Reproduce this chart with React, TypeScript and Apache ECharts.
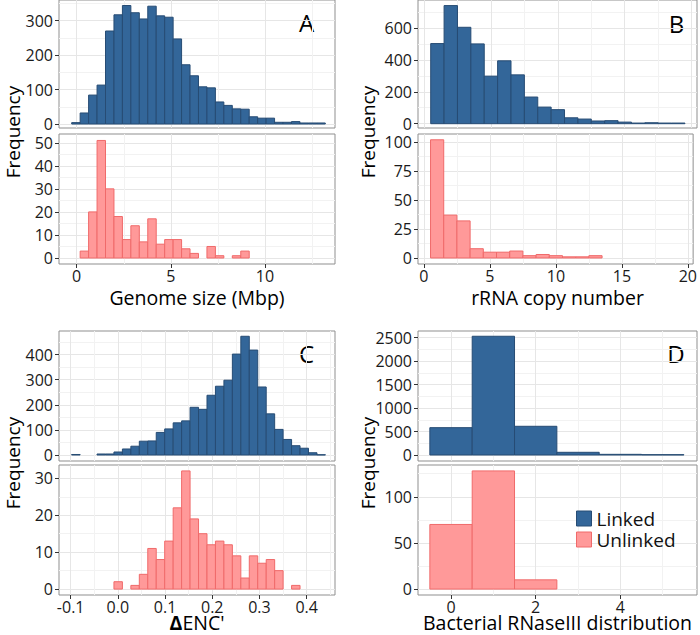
import React, { useEffect, useRef } from 'react';
import * as echarts from 'echarts';

// ---- Data (histogram counts per bin) ----
// Panel A: Genome size (Mbp)
const genomeBinStart = -0.266;
const genomeBinWidth = 0.449;
const genomeLinked = [4, 32, 84, 113, 270, 317, 344, 323, 305, 342, 314, 310, 247, 172, 140, 108, 105, 64, 54, 44, 43, 21, 17, 17, 5, 5, 7, 3, 3, 3];
const genomeUnlinked = [0, 3, 20, 51, 30, 18, 8, 14, 7, 17, 6, 8, 8, 4, 2, 0, 5, 1, 0, 1, 3];

// Panel B: rRNA copy number
const rrnaBinStart = 0.5;
const rrnaBinWidth = 1;
const rrnaLinked = [502, 740, 604, 500, 298, 394, 306, 167, 104, 88, 37, 29, 17, 19, 10, 4, 6, 4, 4];
const rrnaUnlinked = [102, 37, 32, 8, 5, 5, 6, 2, 3, 2, 1, 1, 2];

// Panel C: delta ENC'
const encBinStart = -0.0979;
const encBinWidth = 0.01792;
const encLinked = [2, 0, 0, 4, 4, 12, 24, 35, 55, 56, 90, 104, 128, 136, 190, 182, 238, 274, 298, 402, 473, 418, 271, 164, 102, 62, 37, 27, 9, 1];
const encUnlinked = [0, 0, 0, 0, 0, 2, 0, 1, 4, 11, 8, 13, 22, 32, 19, 15, 12, 13, 12, 9, 3, 9, 7, 8, 5, 0, 1];

// Panel D: Bacterial RNaseIII distribution
const rnaseBinStart = -0.5;
const rnaseBinWidth = 1;
const rnaseLinked = [582, 2528, 611, 57, 14, 7];
const rnaseUnlinked = [70, 128, 10];

const seriesNames = ['Linked', 'Unlinked'];
const panelLetters = ['A', 'B', 'C', 'D'];
const xTitles = ['Genome size (Mbp)', 'rRNA copy number', "{d|Δ}ENC'", 'Bacterial RNaseIII distribution'];
const yTitle = 'Frequency';

const FONT = '"Open Sans", "Noto Sans", sans-serif';
const BLUE = '#336699';
const BLUE_BORDER = '#274c74';
const PINK = '#ff9999';
const PINK_BORDER = '#f06a6a';

export default function App() {
  const ref = useRef<HTMLDivElement>(null);

  useEffect(() => {
    if (!ref.current) return;
    const chart = echarts.init(ref.current, undefined, { renderer: 'svg' });

    // grid layout: [left, top, width, height]
    const grids = [
      [59, 0, 276, 128],
      [59, 134, 276, 130],
      [418, 0, 279, 128],
      [418, 134, 279, 130],
      [59, 331, 276, 130],
      [59, 465, 276, 130],
      [418, 331, 279, 130],
      [418, 465, 279, 130],
    ];

    const xCfg = [
      { min: -0.94, max: 13.72, iv: 5, fmt: (v: number) => String(v) },
      { min: -0.45, max: 20.4, iv: 5, fmt: (v: number) => String(v) },
      { min: -0.1247, max: 0.46, iv: 0.1, fmt: (v: number) => v.toFixed(1) },
      { min: -0.78, max: 5.81, iv: 2, fmt: (v: number) => String(v) },
    ];

    const yCfg = [
      { min: -11.6, max: 360, iv: 100 },
      { min: -2.6, max: 53.8, iv: 10 },
      { min: -27, max: 775, iv: 200 },
      { min: -5.2, max: 107, iv: 25 },
      { min: -23.9, max: 494, iv: 100 },
      { min: -1.6, max: 33.6, iv: 10 },
      { min: -128, max: 2640, iv: 500 },
      { min: -6.4, max: 134.4, iv: 50 },
    ];

    const onTick = (v: number, iv: number) => Math.abs(v / iv - Math.round(v / iv)) < 1e-6;
    const tickValues = (min: number, max: number, iv: number) => {
      const out: number[] = [];
      for (let k = Math.ceil(min / iv - 1e-9); k * iv <= max + 1e-9; k++) {
        out.push(Math.round(k * iv * 1e6) / 1e6);
      }
      return out;
    };

    const xAxes = grids.map((_, i) => {
      const p = Math.floor(i / 2);
      const c = xCfg[p];
      const bottom = i % 2 === 1;
      const ticks = tickValues(c.min, c.max, c.iv);
      return {
        type: 'value',
        gridIndex: i,
        position: 'bottom',
        min: c.min,
        max: c.max,
        minInterval: c.iv,
        maxInterval: c.iv,
        splitNumber: 3,
        axisLine: { show: false, onZero: false },
        axisTick: { show: bottom, length: 4, customValues: ticks, lineStyle: { color: '#333333' } },
        axisLabel: {
          show: bottom,
          fontSize: 16,
          color: '#1a1a1a',
          fontFamily: FONT,
          margin: 4,
          hideOverlap: false,
          customValues: ticks,
          formatter: (v: number) => (onTick(v, c.iv) ? c.fmt(v) : ''),
        },
        splitLine: { show: true, lineStyle: { color: '#e6e6e6', width: 1 } },
        minorTick: { show: false, splitNumber: 2 },
        minorSplitLine: { show: true, lineStyle: { color: '#f2f2f2', width: 1 } },
      };
    });

    const yAxes = grids.map((_, i) => {
      const c = yCfg[i];
      const ticks = tickValues(c.min, c.max, c.iv);
      return {
        type: 'value',
        gridIndex: i,
        position: 'left',
        min: c.min,
        max: c.max,
        minInterval: c.iv,
        maxInterval: c.iv,
        splitNumber: 3,
        axisLine: { show: false, onZero: false },
        axisTick: { show: true, length: 4, customValues: ticks, lineStyle: { color: '#333333' } },
        axisLabel: {
          show: true,
          fontSize: 16,
          color: '#1a1a1a',
          fontFamily: FONT,
          margin: 6,
          hideOverlap: false,
          customValues: ticks,
          formatter: (v: number) => (onTick(v, c.iv) ? String(Math.round(v)) : ''),
        },
        splitLine: { show: true, lineStyle: { color: '#e6e6e6', width: 1 } },
        minorTick: { show: false, splitNumber: 2 },
        minorSplitLine: { show: true, lineStyle: { color: '#f2f2f2', width: 1 } },
      };
    });

    const makeSeries = (
      name: string,
      idx: number,
      start: number,
      width: number,
      counts: number[],
      fill: string,
      stroke: string
    ) => ({
      type: 'custom',
      name,
      xAxisIndex: idx,
      yAxisIndex: idx,
      data: counts.map((c, i) => [start + i * width, start + (i + 1) * width, c]),
      encode: { x: [0, 1], y: 2 },
      itemStyle: { color: fill, borderColor: stroke, borderWidth: 1 },
      clip: true,
      renderItem: (params: any, api: any) => {
        const c = api.value(2);
        if (!c) return null;
        const p0 = api.coord([api.value(0), c]);
        const p1 = api.coord([api.value(1), 0]);
        return {
          type: 'rect',
          shape: { x: p0[0], y: p0[1], width: p1[0] - p0[0], height: p1[1] - p0[1] },
          style: { fill, stroke, lineWidth: 1 },
        };
      },
    });

    const series = [
      makeSeries(seriesNames[0], 0, genomeBinStart, genomeBinWidth, genomeLinked, BLUE, BLUE_BORDER),
      makeSeries(seriesNames[1], 1, genomeBinStart, genomeBinWidth, genomeUnlinked, PINK, PINK_BORDER),
      makeSeries(seriesNames[0], 2, rrnaBinStart, rrnaBinWidth, rrnaLinked, BLUE, BLUE_BORDER),
      makeSeries(seriesNames[1], 3, rrnaBinStart, rrnaBinWidth, rrnaUnlinked, PINK, PINK_BORDER),
      makeSeries(seriesNames[0], 4, encBinStart, encBinWidth, encLinked, BLUE, BLUE_BORDER),
      makeSeries(seriesNames[1], 5, encBinStart, encBinWidth, encUnlinked, PINK, PINK_BORDER),
      makeSeries(seriesNames[0], 6, rnaseBinStart, rnaseBinWidth, rnaseLinked, BLUE, BLUE_BORDER),
      makeSeries(seriesNames[1], 7, rnaseBinStart, rnaseBinWidth, rnaseUnlinked, PINK, PINK_BORDER),
    ];

    const letterPos = [
      [306.5, 22],
      [676.5, 23],
      [306.5, 353],
      [676, 353],
    ];
    const xTitlePos = [
      [197, 297],
      [557.5, 297],
      [197, 622],
      [557.5, 622],
    ];
    const yTitlePos = [
      [13, 132],
      [368, 132],
      [13, 463],
      [368, 463],
    ];

    const graphics: any[] = [];
    panelLetters.forEach((l, i) => {
      graphics.push({
        type: 'text',
        x: letterPos[i][0],
        y: letterPos[i][1],
        style: { text: l, fontSize: 24, fontFamily: FONT, fill: '#000', textAlign: 'center', textVerticalAlign: 'middle' },
      });
    });
    xTitles.forEach((t, i) => {
      graphics.push({
        type: 'text',
        x: xTitlePos[i][0],
        y: xTitlePos[i][1],
        style: {
          text: t,
          fontSize: 19.5,
          fontFamily: FONT,
          fill: '#000',
          textAlign: 'center',
          textVerticalAlign: 'middle',
          rich: { d: { fontSize: 19.5, fontWeight: 'bold', fontFamily: FONT, fill: '#000' } },
        },
      });
    });
    yTitlePos.forEach((p) => {
      graphics.push({
        type: 'text',
        x: p[0],
        y: p[1],
        rotation: Math.PI / 2,
        style: { text: yTitle, fontSize: 19, fontFamily: FONT, fill: '#000', textAlign: 'center', textVerticalAlign: 'middle' },
      });
    });

    chart.setOption({
      animation: false,
      backgroundColor: '#ffffff',
      grid: grids.map((g) => ({
        left: g[0],
        top: g[1],
        width: g[2],
        height: g[3],
        show: true,
        borderColor: '#8f8f8f',
        borderWidth: 1,
        backgroundColor: 'transparent',
        containLabel: false,
      })),
      xAxis: xAxes,
      yAxis: yAxes,
      legend: {
        orient: 'vertical',
        left: 576,
        top: 509,
        padding: 0,
        icon: 'rect',
        itemWidth: 15,
        itemHeight: 15,
        itemGap: 2,
        selectedMode: false,
        textStyle: { fontSize: 19, fontFamily: FONT, color: '#111' },
        data: [
          { name: seriesNames[0], itemStyle: { color: BLUE, borderColor: BLUE_BORDER, borderWidth: 1 } },
          { name: seriesNames[1], itemStyle: { color: PINK, borderColor: PINK_BORDER, borderWidth: 1 } },
        ],
      },
      graphic: graphics,
      series,
    });

    return () => chart.dispose();
  }, []);

  return (
    <div
      ref={ref}
      style={{ position: 'absolute', left: 0, top: 0, width: 700, height: 635 }}
    />
  );
}
